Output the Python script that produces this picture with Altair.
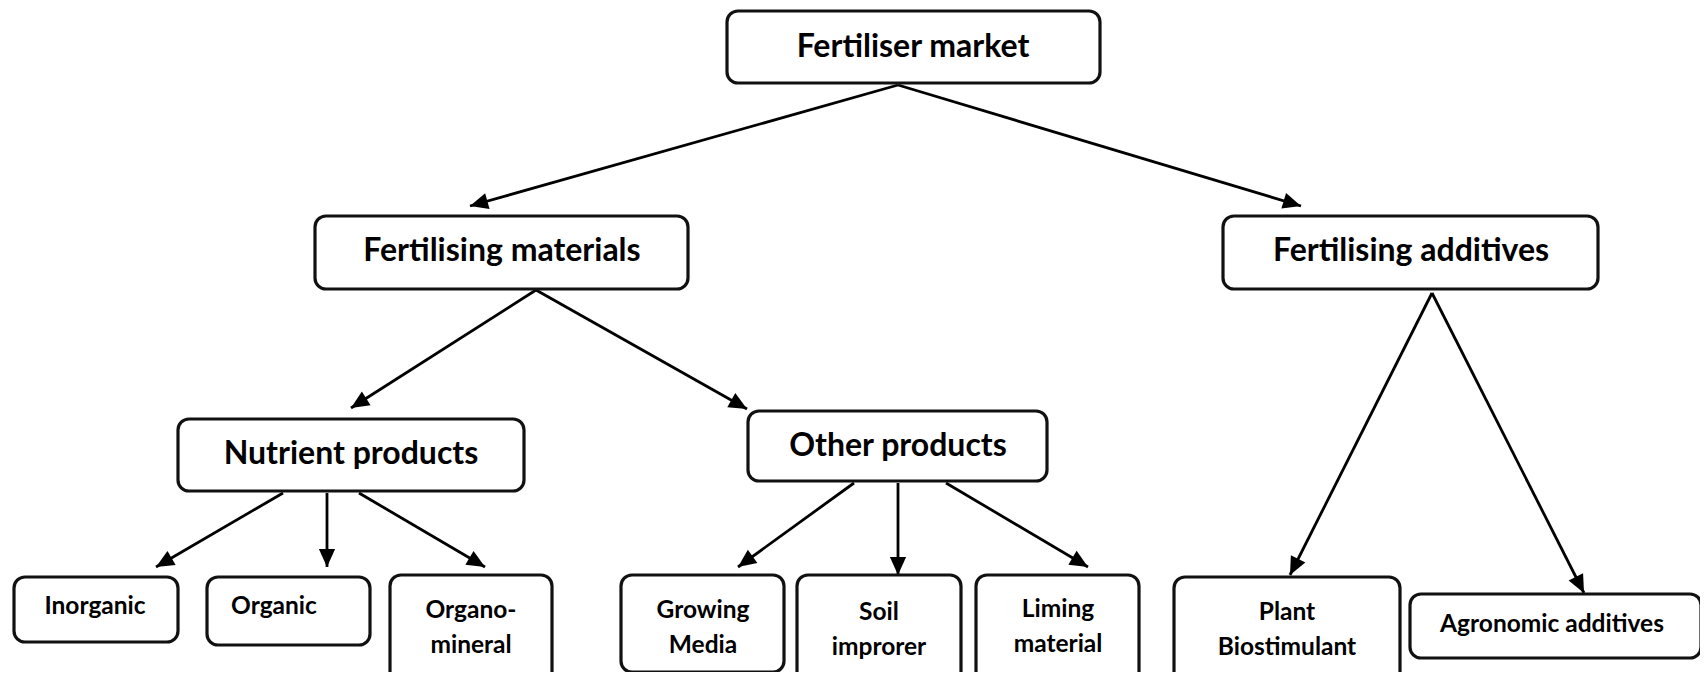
import math
import altair as alt
import pandas as pd

# ---- node data (page-pixel coordinates) ----
labels = [
    "Fertiliser market", "Fertilising materials", "Fertilising additives",
    "Nutrient products", "Other products",
    "Inorganic", "Organic", "Organo-\nmineral",
    "Growing\nMedia", "Soil\nimprorer", "Liming\nmaterial",
    "Plant\nBiostimulant", "Agronomic additives",
]
level = ["top", "top", "top", "top", "top",
         "leaf", "leaf", "leaf", "leaf", "leaf", "leaf", "leaf", "leaf"]
box_left = [727, 315, 1223, 178, 748, 14, 207, 390, 621, 797, 976, 1174, 1410]
box_right = [1100, 688, 1598, 524, 1047, 178, 370, 552, 784, 961, 1139, 1400, 1701]
box_top = [11, 216, 216, 419, 411, 577, 577, 575, 575, 575, 575, 577, 594]
box_bottom = [83, 289, 289, 491, 481, 642, 645, 695, 672, 695, 695, 695, 658]
label_x = [913, 502, 1411, 351, 898, 95, 274, 471, 703, 879, 1058, 1287, 1552]
label_y = [47, 251, 251, 454, 446, 607, 607, 611, 611, 613, 610, 613, 625]

# ---- edges ----
edge_x0 = [898, 898, 536, 536, 283, 327, 359, 854, 898, 946, 1432, 1432]
edge_y0 = [85, 85, 290, 290, 493, 493, 493, 483, 483, 483, 293, 293]
edge_x1 = [470, 1301, 351, 747, 156, 327, 485, 738, 898, 1088, 1290, 1584]
edge_y1 = [206, 206, 408, 409, 567, 567, 567, 567, 575, 567, 575, 593]

boxes = pd.DataFrame({
    "label": labels, "level": level,
    "x0": box_left, "x1": box_right, "y0": box_top, "y1": box_bottom,
    "tx": label_x, "ty": label_y,
})
edges = pd.DataFrame({"x0": edge_x0, "y0": edge_y0, "x1": edge_x1, "y1": edge_y1})
edges["ang"] = [
    (math.degrees(math.atan2(a1 - a0, -(b1 - b0))) + 360) % 360
    for a0, b0, a1, b1 in zip(edges.x0, edges.y0, edges.x1, edges.y1)
]

W, H = 1692, 664
xs = alt.Scale(domain=[8, 8 + W], nice=False, zero=False)
ys = alt.Scale(domain=[8, 8 + H], nice=False, zero=False, reverse=True)

rects = alt.Chart(boxes).mark_rect(
    fill="white", stroke="#111111", strokeWidth=3.2, cornerRadius=11, clip=True
).encode(
    x=alt.X("x0:Q", scale=xs, axis=None), x2="x1:Q",
    y=alt.Y("y0:Q", scale=ys, axis=None), y2="y1:Q",
)

lines = alt.Chart(edges).mark_rule(color="#000000", strokeWidth=2.8).encode(
    x=alt.X("x0:Q", scale=xs, axis=None), x2="x1:Q",
    y=alt.Y("y0:Q", scale=ys, axis=None), y2="y1:Q",
)

heads = alt.Chart(edges).mark_point(
    shape="M0,0L-0.45,1L0.45,1Z", filled=True, color="#000000", opacity=1,
    size=1300, strokeWidth=0,
).encode(
    x=alt.X("x1:Q", scale=xs, axis=None),
    y=alt.Y("y1:Q", scale=ys, axis=None),
    angle=alt.Angle("ang:Q", scale=None),
)

text_top = alt.Chart(boxes).transform_filter(alt.datum.level == "top").mark_text(
    font="Lato", fontWeight="bold", fontSize=32, color="#000000",
    align="center", baseline="middle", lineBreak="\n",
).encode(
    x=alt.X("tx:Q", scale=xs, axis=None), y=alt.Y("ty:Q", scale=ys, axis=None),
    text="label:N",
)

text_leaf = alt.Chart(boxes).transform_filter(alt.datum.level == "leaf").mark_text(
    font="Lato", fontWeight="bold", fontSize=24.5, color="#000000",
    align="center", baseline="middle", lineBreak="\n", lineHeight=35,
).encode(
    x=alt.X("tx:Q", scale=xs, axis=None), y=alt.Y("ty:Q", scale=ys, axis=None),
    text="label:N",
)

chart = alt.layer(lines, heads, rects, text_top, text_leaf).properties(
    width=W, height=H, padding=0, autosize=alt.AutoSizeParams(type="none"),
).configure_view(stroke=None)

chart.save("out.html", embed_options={"renderer": "svg", "actions": False})
